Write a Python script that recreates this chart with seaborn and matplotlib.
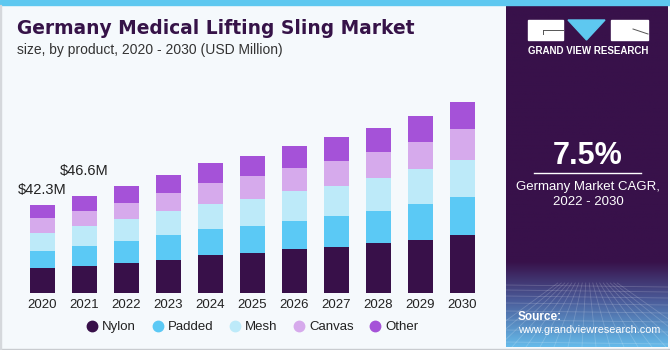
import numpy as np
import pandas as pd
import matplotlib
matplotlib.use("Agg")
import matplotlib.pyplot as plt
from matplotlib.lines import Line2D
from matplotlib.patches import Rectangle, Polygon
import seaborn as sns

# data (USD Million)
years = [2020, 2021, 2022, 2023, 2024, 2025, 2026, 2027, 2028, 2029, 2030]
nylon = [12.0, 13.3, 14.5, 16.1, 18.2, 19.5, 21.3, 22.4, 24.0, 25.7, 27.8]
padded = [8.4, 9.6, 10.7, 11.9, 12.6, 12.8, 13.4, 14.7, 15.5, 17.3, 18.5]
mesh = [8.3, 9.3, 10.3, 11.2, 12.1, 13.1, 14.1, 14.5, 15.7, 16.5, 17.8]
canvas = [7.3, 7.2, 8.0, 9.0, 10.1, 10.6, 11.2, 12.0, 12.3, 13.2, 14.4]
other = [6.3, 7.2, 7.9, 8.5, 9.3, 9.8, 10.6, 11.4, 11.9, 12.3, 13.2]
segments = ["Nylon", "Padded", "Mesh", "Canvas", "Other"]
colors = ["#381049", "#5bc9f5", "#bdeaf9", "#d6aaec", "#a552d8"]
labels = {2020: "$42.3M", 2021: "$46.6M"}

BG = "#f5f9fc"

df = pd.DataFrame({"year": years, "Nylon": nylon, "Padded": padded,
                   "Mesh": mesh, "Canvas": canvas, "Other": other})
cum = df[segments].cumsum(axis=1)
cum["year"] = df["year"].astype(str)

plt.rcParams["font.family"] = ["Liberation Sans", "DejaVu Sans"]
fig = plt.figure(figsize=(6.7, 3.5), dpi=100, facecolor=BG)

W, H = 670, 350
def fx(px):
    return px / W
def fy(py):
    return 1 - py / H

# top stripe + borders
fig.patches.append(Rectangle((0, fy(5)), 1, 5 / H, transform=fig.transFigure,
                             color="#5ec8f0", zorder=0))
fig.patches.append(Rectangle((0, 0), 1, 1.5 / H, transform=fig.transFigure,
                             color="#c9ccd0", zorder=0))
fig.patches.append(Rectangle((0, 0), 1.2 / W, fy(5), transform=fig.transFigure,
                             color="#d5d8dc", zorder=0))

# main bars (stacked by overdrawing cumulative totals)
ax = fig.add_axes([fx(17.3), fy(293.3), fx(489.8 - 17.3), (293.3 - 70) / H])
ax.set_facecolor("none")
for seg, col in zip(segments[::-1], colors[::-1]):
    sns.barplot(data=cum, x="year", y=seg, color=col, width=0.6,
                saturation=1, linewidth=0, ax=ax)
ax.set_xlim(-0.6, 10.65)
ax.set_ylim(0, 107)
ax.set_xlabel("")
ax.set_ylabel("")
ax.set_yticks([])
ax.tick_params(axis="x", length=0, labelsize=9.5, labelcolor="#222222", pad=4)
for s in ax.spines.values():
    s.set_visible(False)

tot = cum["Other"].tolist()
offsets = {2020: 6, 2021: 13}
for i, y in enumerate(years):
    if y in labels:
        ax.annotate(labels[y], (i, tot[i]), xytext=(0, offsets[y]),
                    textcoords="offset points", ha="center", va="bottom",
                    fontsize=10.5, color="#222222")

handles = [Line2D([0], [0], marker="o", linestyle="", markersize=7.5,
                  markerfacecolor=c, markeredgecolor=c) for c in colors]
fig.legend(handles, segments, loc="center", bbox_to_anchor=(fx(252), fy(327)),
           ncol=5, frameon=False, fontsize=9.5, handletextpad=0.25,
           columnspacing=1.15, handlelength=1.0, labelcolor="#222222")

fig.text(fx(17), fy(29), "Germany Medical Lifting Sling Market", fontsize=13.4,
         fontweight="bold", color="#361348", va="center", ha="left",
         family="DejaVu Sans")
fig.text(fx(17), fy(50), "size, by product, 2020 - 2030 (USD Million)",
         fontsize=10, color="#333333", va="center", ha="left")

# right panel
pa = fig.add_axes([fx(506), fy(347), fx(668 - 506), (347 - 5) / H])
pa.set_xlim(506, 668)
pa.set_ylim(347, 5)
pa.axis("off")
rows = np.linspace(5, 347, 400)
top = np.array([0x38, 0x11, 0x4a]) / 255
mid = np.array([0x4a, 0x5a, 0x98]) / 255
bot = np.array([0x66, 0xbb, 0xea]) / 255
grad = np.zeros((len(rows), 1, 3))
for k, r in enumerate(rows):
    if r < 262:
        c = top
    elif r < 300:
        t = (r - 262) / 38
        c = top * (1 - t) + mid * t
    else:
        t = (r - 300) / 47
        c = mid * (1 - t) + bot * t
    grad[k, 0] = c
pa.imshow(grad, extent=(506, 668, 347, 5), aspect="auto", zorder=0)

# faint perspective grid
for yy in [285, 290, 296, 303, 311, 320, 330, 342]:
    pa.plot([506, 668], [yy, yy + 2], color="white", alpha=0.18, lw=0.6, zorder=1)
for xx in np.arange(470, 720, 14):
    pa.plot([587 + (xx - 587) * 0.25, xx], [283, 347], color="white",
            alpha=0.18, lw=0.6, zorder=1)

# logo
pa.add_patch(Rectangle((528, 20), 35, 20, color="white", zorder=2))
pa.add_patch(Rectangle((611, 20), 37, 20, color="white", zorder=2))
pa.add_patch(Polygon([(568, 20), (605, 20), (586.5, 40)], color="#5ec8f0", zorder=2))
pa.plot([543, 563], [30, 30], color="#555555", lw=0.7, zorder=3)
pa.plot([543, 543], [30, 34], color="#555555", lw=0.7, zorder=3)
pa.plot([633, 648], [29, 34], color="#555555", lw=0.7, zorder=3)
pa.text(588, 51, "GRAND VIEW RESEARCH", color="white", fontsize=7,
        fontweight="bold", ha="center", va="center", zorder=3)

pa.text(588, 156, "7.5%", color="white", fontsize=22, fontweight="bold",
        ha="center", va="center", zorder=3)
pa.plot([534, 641], [173, 173], color="white", lw=1, zorder=3)
pa.text(588, 187, "Germany Market CAGR,", color="white", fontsize=9.5,
        ha="center", va="center", zorder=3)
pa.text(588, 202, "2022 - 2030", color="white", fontsize=9.5,
        ha="center", va="center", zorder=3)
pa.text(518, 317, "Source:", color="white", fontsize=8.5, fontweight="bold",
        ha="left", va="center", zorder=3)
pa.text(518, 330, "www.grandviewresearch.com", color="white", fontsize=7.8,
        ha="left", va="center", zorder=3)

fig.savefig("out.png", dpi=100, facecolor=BG)
